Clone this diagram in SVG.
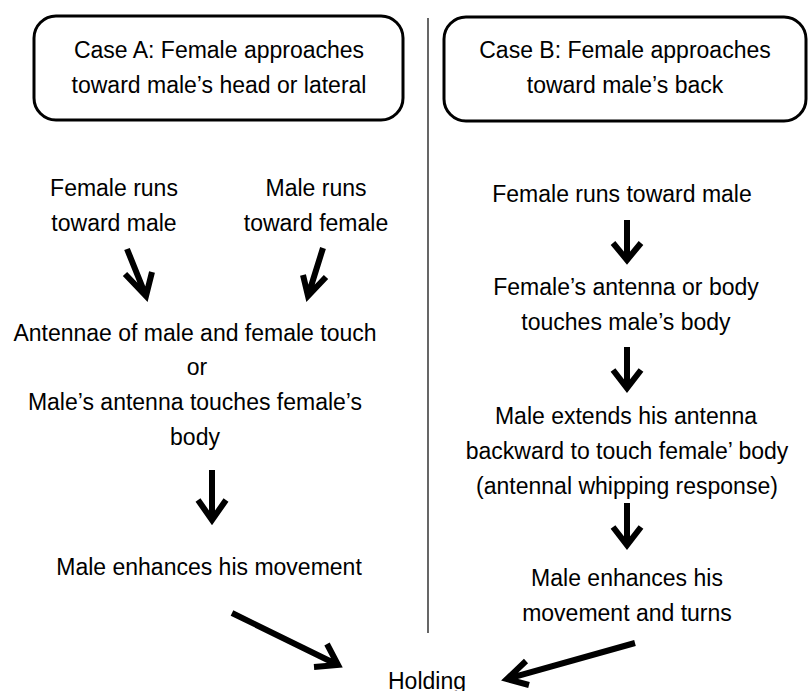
<svg xmlns="http://www.w3.org/2000/svg" width="808" height="691" viewBox="0 0 808 691">
<style>
text{font-family:"Liberation Sans",Arial,sans-serif;font-size:23px;fill:#000;text-anchor:middle}
.box{fill:#fff;stroke:#000;stroke-width:3}
.arr{fill:none;stroke:#000;stroke-width:6;stroke-linecap:butt;stroke-linejoin:miter}
.div{stroke:#000;stroke-width:1.2}
</style>
<rect width="808" height="691" fill="#fff"/>
<g id="divider"><line class="div" x1="428" y1="18" x2="428" y2="633"/></g>
<g id="caseA"><rect class="box" x="34" y="16" width="369" height="104" rx="22"/>
<text x="219" y="58">Case A: Female approaches</text><text x="219" y="93">toward male’s head or lateral</text></g>
<g id="caseB"><rect class="box" x="444" y="17" width="362" height="104" rx="22"/>
<text x="625" y="58">Case B: Female approaches</text><text x="625" y="93">toward male’s back</text></g>
<g id="a1"><text x="114" y="196">Female runs</text><text x="114" y="231">toward male</text></g>
<g id="a2"><text x="316" y="196">Male runs</text><text x="316" y="231">toward female</text></g>
<g id="a3"><text x="195" y="341">Antennae of male and female touch</text><text x="197" y="375">or</text><text x="195" y="410">Male’s antenna touches female’s</text><text x="195" y="445">body</text></g>
<g id="a4"><text x="209" y="575">Male enhances his movement</text></g>
<g id="b1"><text x="622" y="202">Female runs toward male</text></g>
<g id="b2"><text x="626" y="295">Female’s antenna or body</text><text x="626" y="330">touches male’s body</text></g>
<g id="b3"><text x="626" y="424">Male extends his antenna</text><text x="627" y="459">backward to touch female’ body</text><text x="627" y="494">(antennal whipping response)</text></g>
<g id="b4"><text x="627" y="586">Male enhances his</text><text x="627" y="621">movement and turns</text></g>
<g id="holding"><text x="427" y="689">Holding</text></g>
<g id="connectors">
<path class="arr" d="M127 249 L146 296 M125 274 L146 296 L152 272"/>
<path class="arr" d="M323 248 L308 296 M303 275 L308 296 L326 277"/>
<path class="arr" d="M212 470 L212 520 M198 500 L212 520 L226 500"/>
<path class="arr" d="M627 220 L627 260 M613 243 L627 260 L641 243"/>
<path class="arr" d="M627 347 L627 388 M613 370 L627 388 L641 370"/>
<path class="arr" d="M627 503 L627 545 M613 527 L627 545 L641 527"/>
<path class="arr" d="M232 613 L338 665 M314 667 L338 665 L327 644"/>
<path class="arr" d="M635 643 L507 679 M526 661 L507 679 L529 685"/>
</g>
</svg>
